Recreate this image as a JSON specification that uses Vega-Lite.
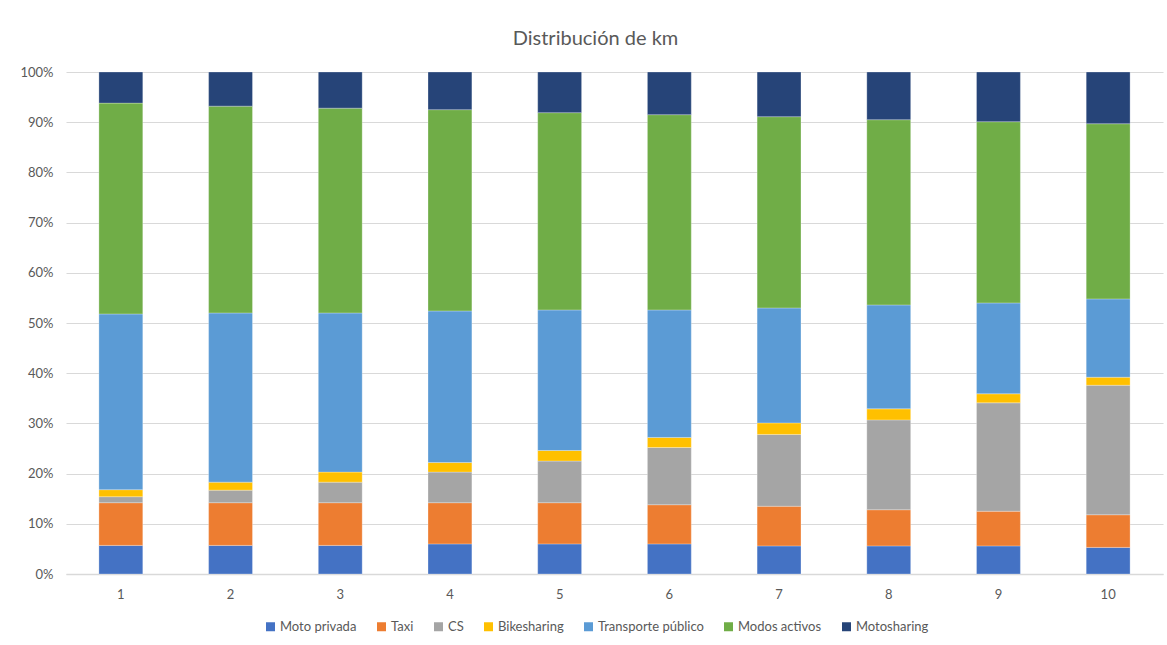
{
  "$schema": "https://vega.github.io/schema/vega-lite/v6.json",
  "width": 1097,
  "height": 502,
  "autosize": {"type": "none"},
  "padding": {"left": 66, "top": 72, "right": 4, "bottom": 71},
  "background": "white",
  "title": {
    "text": "Distribución de km",
    "anchor": "middle",
    "frame": "group",
    "dx": -19,
    "offset": 17,
    "fontSize": 20,
    "font": "Lato",
    "fontWeight": "normal",
    "color": "#595959"
  },
  "config": {
    "view": {"stroke": null},
    "font": "Lato"
  },
  "data": {
    "values": [
      {"grupo": 1, "modo": "Moto privada", "km": 5.7},
      {"grupo": 1, "modo": "Taxi", "km": 8.5},
      {"grupo": 1, "modo": "CS", "km": 1.2},
      {"grupo": 1, "modo": "Bikesharing", "km": 1.4},
      {"grupo": 1, "modo": "Transporte público", "km": 35.0},
      {"grupo": 1, "modo": "Modos activos", "km": 42.0},
      {"grupo": 1, "modo": "Motosharing", "km": 6.2},
      {"grupo": 2, "modo": "Moto privada", "km": 5.7},
      {"grupo": 2, "modo": "Taxi", "km": 8.5},
      {"grupo": 2, "modo": "CS", "km": 2.5},
      {"grupo": 2, "modo": "Bikesharing", "km": 1.6},
      {"grupo": 2, "modo": "Transporte público", "km": 33.7},
      {"grupo": 2, "modo": "Modos activos", "km": 41.2},
      {"grupo": 2, "modo": "Motosharing", "km": 6.8},
      {"grupo": 3, "modo": "Moto privada", "km": 5.7},
      {"grupo": 3, "modo": "Taxi", "km": 8.5},
      {"grupo": 3, "modo": "CS", "km": 4.1},
      {"grupo": 3, "modo": "Bikesharing", "km": 2.0},
      {"grupo": 3, "modo": "Transporte público", "km": 31.7},
      {"grupo": 3, "modo": "Modos activos", "km": 40.8},
      {"grupo": 3, "modo": "Motosharing", "km": 7.2},
      {"grupo": 4, "modo": "Moto privada", "km": 6.0},
      {"grupo": 4, "modo": "Taxi", "km": 8.2},
      {"grupo": 4, "modo": "CS", "km": 6.1},
      {"grupo": 4, "modo": "Bikesharing", "km": 1.9},
      {"grupo": 4, "modo": "Transporte público", "km": 30.2},
      {"grupo": 4, "modo": "Modos activos", "km": 40.1},
      {"grupo": 4, "modo": "Motosharing", "km": 7.5},
      {"grupo": 5, "modo": "Moto privada", "km": 6.0},
      {"grupo": 5, "modo": "Taxi", "km": 8.2},
      {"grupo": 5, "modo": "CS", "km": 8.3},
      {"grupo": 5, "modo": "Bikesharing", "km": 2.1},
      {"grupo": 5, "modo": "Transporte público", "km": 28.0},
      {"grupo": 5, "modo": "Modos activos", "km": 39.3},
      {"grupo": 5, "modo": "Motosharing", "km": 8.1},
      {"grupo": 6, "modo": "Moto privada", "km": 6.0},
      {"grupo": 6, "modo": "Taxi", "km": 7.8},
      {"grupo": 6, "modo": "CS", "km": 11.4},
      {"grupo": 6, "modo": "Bikesharing", "km": 2.0},
      {"grupo": 6, "modo": "Transporte público", "km": 25.4},
      {"grupo": 6, "modo": "Modos activos", "km": 38.9},
      {"grupo": 6, "modo": "Motosharing", "km": 8.5},
      {"grupo": 7, "modo": "Moto privada", "km": 5.6},
      {"grupo": 7, "modo": "Taxi", "km": 7.9},
      {"grupo": 7, "modo": "CS", "km": 14.3},
      {"grupo": 7, "modo": "Bikesharing", "km": 2.3},
      {"grupo": 7, "modo": "Transporte público", "km": 22.9},
      {"grupo": 7, "modo": "Modos activos", "km": 38.1},
      {"grupo": 7, "modo": "Motosharing", "km": 8.9},
      {"grupo": 8, "modo": "Moto privada", "km": 5.6},
      {"grupo": 8, "modo": "Taxi", "km": 7.2},
      {"grupo": 8, "modo": "CS", "km": 17.9},
      {"grupo": 8, "modo": "Bikesharing", "km": 2.2},
      {"grupo": 8, "modo": "Transporte público", "km": 20.7},
      {"grupo": 8, "modo": "Modos activos", "km": 36.9},
      {"grupo": 8, "modo": "Motosharing", "km": 9.5},
      {"grupo": 9, "modo": "Moto privada", "km": 5.6},
      {"grupo": 9, "modo": "Taxi", "km": 6.9},
      {"grupo": 9, "modo": "CS", "km": 21.6},
      {"grupo": 9, "modo": "Bikesharing", "km": 1.8},
      {"grupo": 9, "modo": "Transporte público", "km": 18.1},
      {"grupo": 9, "modo": "Modos activos", "km": 36.1},
      {"grupo": 9, "modo": "Motosharing", "km": 9.9},
      {"grupo": 10, "modo": "Moto privada", "km": 5.3},
      {"grupo": 10, "modo": "Taxi", "km": 6.5},
      {"grupo": 10, "modo": "CS", "km": 25.8},
      {"grupo": 10, "modo": "Bikesharing", "km": 1.6},
      {"grupo": 10, "modo": "Transporte público", "km": 15.6},
      {"grupo": 10, "modo": "Modos activos", "km": 34.9},
      {"grupo": 10, "modo": "Motosharing", "km": 10.3}
    ]
  },
  "transform": [
    {"calculate": "indexof(['Moto privada', 'Taxi', 'CS', 'Bikesharing', 'Transporte público', 'Modos activos', 'Motosharing'], datum.modo)", "as": "orden"}
  ],
  "mark": {"type": "bar", "stroke": "#ffffff", "strokeOpacity": 0.35, "strokeWidth": 0.8},
  "encoding": {
    "x": {
      "field": "grupo",
      "type": "ordinal",
      "scale": {"paddingInner": 0.6, "paddingOuter": 0.3},
      "axis": {
        "title": null,
        "labelAngle": 0,
        "labelFontSize": 13,
        "labelColor": "#595959",
        "labelPadding": 14,
        "ticks": false,
        "domain": true,
        "domainColor": "#d9d9d9",
        "domainWidth": 1.5,
        "grid": false
      }
    },
    "y": {
      "field": "km",
      "type": "quantitative",
      "stack": "normalize",
      "scale": {"domain": [0, 1], "nice": false},
      "axis": {
        "title": null,
        "format": ".0%",
        "values": [0, 0.1, 0.2, 0.3, 0.4, 0.5, 0.6, 0.7, 0.8, 0.9, 1],
        "labelFontSize": 13,
        "labelColor": "#595959",
        "labelPadding": 13,
        "ticks": false,
        "domain": false,
        "grid": true,
        "gridColor": "#d9d9d9",
        "gridWidth": 1.2
      }
    },
    "color": {
      "field": "modo",
      "type": "nominal",
      "sort": ["Moto privada", "Taxi", "CS", "Bikesharing", "Transporte público", "Modos activos", "Motosharing"],
      "scale": {
        "domain": ["Moto privada", "Taxi", "CS", "Bikesharing", "Transporte público", "Modos activos", "Motosharing"],
        "range": ["#4472C4", "#ED7D31", "#A5A5A5", "#FFC000", "#5B9BD5", "#70AD47", "#264478"]
      },
      "legend": {
        "title": null,
        "orient": "none",
        "direction": "horizontal",
        "legendX": 198,
        "legendY": 548,
        "symbolType": "square",
        "symbolSize": 81,
        "symbolStrokeWidth": 0,
        "labelFontSize": 13,
        "labelColor": "#595959",
        "labelOffset": 3,
        "columnPadding": 18
      }
    },
    "order": {"field": "orden", "type": "quantitative", "sort": "ascending"}
  }
}
